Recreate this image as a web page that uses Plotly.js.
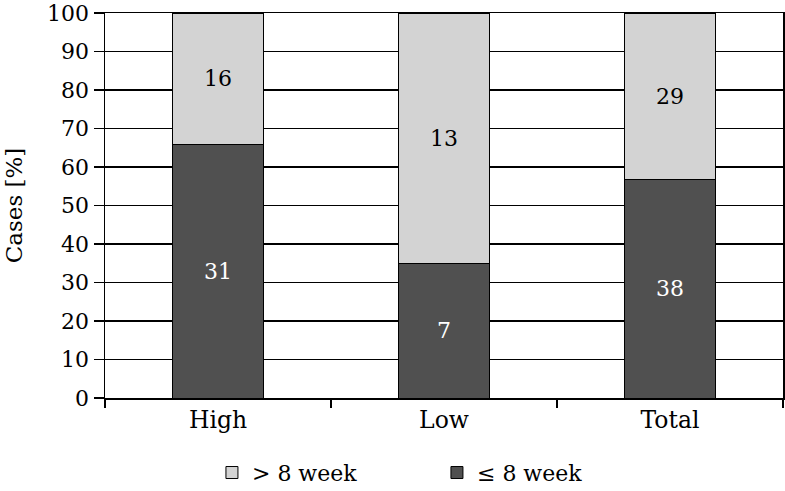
<!DOCTYPE html>
<html><head><meta charset="utf-8">
<script src="https://cdn.plot.ly/plotly-3.0.1.min.js"></script>
<style>html,body{margin:0;padding:0;background:#fff}#chart{width:785px;height:491px}</style>
</head><body><div id="chart"></div>
<script>
const categories = ["High", "Low", "Total"];
const countShort = [31, 7, 38];   // ≤ 8 week (counts)
const countLong = [16, 13, 29];   // > 8 week (counts)
const yTicks = [0,10,20,30,40,50,60,70,80,90,100];

const FAM = "DejaVu Serif";
const FS = 22;

const traces = [
  {type: "bar", name: "≤ 8 week", x: categories, y: countShort,
   text: countShort.map(String), textposition: "inside", insidetextanchor: "middle",
   textfont: {family: FAM, size: FS, color: "#fff"},
   marker: {color: "#505050", line: {color: "#000", width: 1}}, hoverinfo: "none"},
  {type: "bar", name: "> 8 week", x: categories, y: countLong,
   text: countLong.map(String), textposition: "inside", insidetextanchor: "middle",
   textfont: {family: FAM, size: FS, color: "#000"},
   marker: {color: "#d3d3d3", line: {color: "#000", width: 1}}, hoverinfo: "none"}
];

const layout = {
  width: 785, height: 491,
  margin: {l: 105, r: 2, t: 13, b: 93, autoexpand: false},
  paper_bgcolor: "#fff", plot_bgcolor: "#fff",
  font: {family: FAM, size: FS, color: "#000"},
  barmode: "stack", barnorm: "percent", bargap: 0.6,
  xaxis: {type: "category", showgrid: false, showline: true, linecolor: "#000", linewidth: 1.5, mirror: true,
    ticks: "outside", tickson: "boundaries", ticklen: 8, tickcolor: "#000", tickwidth: 1.5,
    tickfont: {family: FAM, size: 23.5, color: "#000"}, zeroline: false, automargin: false},
  yaxis: {range: [0, 100], tickvals: yTicks, showgrid: true, gridcolor: "#000", gridwidth: 1.5,
    showline: true, linecolor: "#000", linewidth: 1.5, mirror: true,
    ticks: "outside", ticklen: 10, tickcolor: "#000", tickwidth: 1.5, ticklabeloverflow: "allow",
    tickfont: {family: FAM, size: FS, color: "#000"}, zeroline: false, automargin: false,
    title: {text: "Cases [%]", font: {family: FAM, size: 23, color: "#000"}, standoff: 18}},
  legend: {orientation: "h", x: 0.27, xref: "container", xanchor: "left", y: 0.08, yref: "container", yanchor: "top",
    entrywidth: 180, traceorder: "reversed", font: {family: FAM, size: FS, color: "#000"}},
  showlegend: true
};

Plotly.newPlot("chart", traces, layout, {staticPlot: true, displayModeBar: false});
</script></body></html>
